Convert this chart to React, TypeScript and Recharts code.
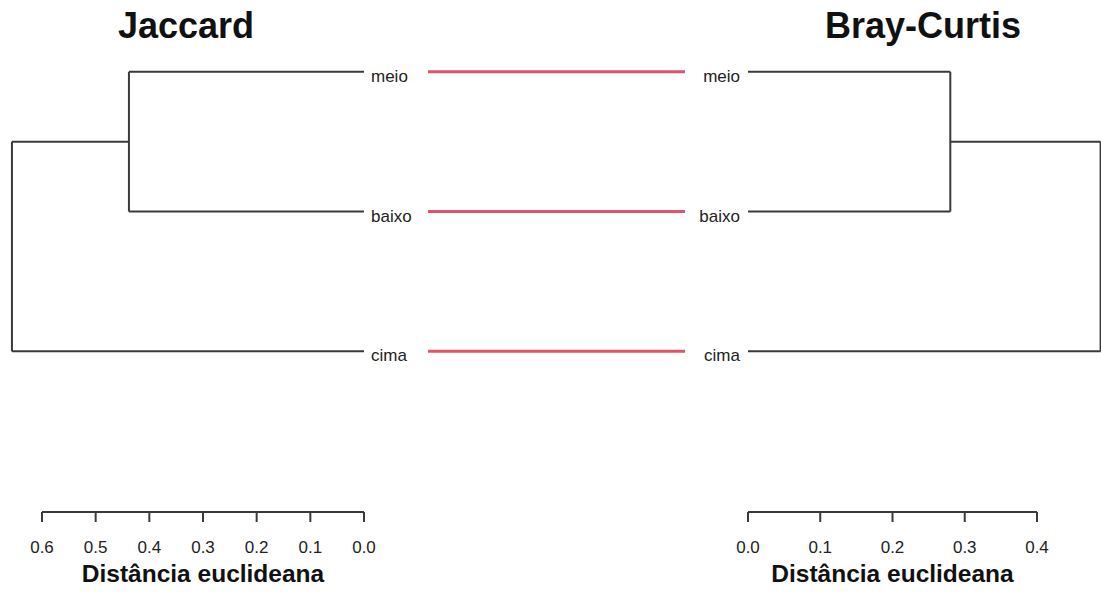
import React from 'react'
import { ComposedChart, Line, Scatter, XAxis, YAxis, ReferenceLine } from 'recharts'

// leaves, top to bottom (same order in both trees)
const leaves = ['meio', 'baixo', 'cima']
const leafPos = [1, 2, 3]

// merge heights: [meio+baixo, root with cima]
const jaccardHeights = [0.438, 0.656]
const brayHeights = [0.28, 0.488]

const jaccardTicks = [0, 0.1, 0.2, 0.3, 0.4, 0.5, 0.6]
const brayTicks = [0, 0.1, 0.2, 0.3, 0.4]

const FONT = '"Liberation Sans", Arial, sans-serif'
const LINE = '#3a3a3a'
const RED = '#DF536B'
const Y_DOMAIN: [number, number] = [0.5, 4.15]
const CHART_H = 598

// leaf tips (height 0)
const tips = leafPos.map((y) => ({ x: 0, y }))

// dendrogram segments from merge heights
function treeSegments(h: number[]) {
  const mid = (leafPos[0] + leafPos[1]) / 2
  return [
    [{ x: 0, y: leafPos[0] }, { x: h[0], y: leafPos[0] }],
    [{ x: 0, y: leafPos[1] }, { x: h[0], y: leafPos[1] }],
    [{ x: h[0], y: leafPos[0] }, { x: h[0], y: leafPos[1] }],
    [{ x: h[0], y: mid }, { x: h[1], y: mid }],
    [{ x: h[1], y: mid }, { x: h[1], y: leafPos[2] }],
    [{ x: 0, y: leafPos[2] }, { x: h[1], y: leafPos[2] }],
  ]
}

const leafName = (v: number) => leaves[leafPos.indexOf(v)] ?? ''

const axisLabel = {
  value: 'Distância euclideana',
  position: 'insideBottom' as const,
  offset: 16,
  fontFamily: FONT,
  fontSize: 24.5,
  fontWeight: 700,
  fill: '#111',
}

function Tree({ heights, ticks, reversed }: { heights: number[]; ticks: number[]; reversed: boolean }) {
  const segs = treeSegments(heights)
  const max = ticks[ticks.length - 1]
  return (
    <>
      <XAxis
        type="number"
        dataKey="x"
        domain={[0, max]}
        ticks={ticks}
        reversed={reversed}
        tickFormatter={(v: number) => v.toFixed(1)}
        height={86}
        tickSize={10}
        tickMargin={19}
        stroke={LINE}
        strokeWidth={2}
        tick={{ fontFamily: FONT, fontSize: 17, fill: '#222' }}
        label={axisLabel}
      />
      <YAxis
        type="number"
        dataKey="y"
        domain={Y_DOMAIN}
        reversed
        ticks={leafPos}
        tickFormatter={leafName}
        orientation={reversed ? 'right' : 'left'}
        width={reversed ? 56 : 58}
        axisLine={false}
        tickLine={false}
        tickMargin={reversed ? 1 : 2}
        tick={{ fontFamily: FONT, fontSize: 17, fill: '#222', dy: 4 }}
      />
      <Scatter data={tips} dataKey="y" fill="none" isAnimationActive={false} />
      {segs.map((s, i) => (
        <ReferenceLine key={i} segment={s} ifOverflow="visible" stroke={LINE} strokeWidth={2} />
      ))}
    </>
  )
}

const links = leaves.map((name, i) => ({
  name,
  data: [
    { x: 0, y: leafPos[i] },
    { x: 1, y: leafPos[i] },
  ],
}))

export default function App() {
  return (
    <div style={{ position: 'absolute', left: 0, top: 0, width: 1101, height: CHART_H, background: '#fff' }}>
      <div style={{ position: 'absolute', left: 0, top: 0 }}>
        <ComposedChart width={420} height={CHART_H} margin={{ top: 2, right: 0, bottom: 0, left: 42 }}>
          {Tree({ heights: jaccardHeights, ticks: jaccardTicks, reversed: true })}
          <text x={186} y={38} textAnchor="middle" fontFamily={FONT} fontSize={36} fontWeight={700} fill="#111">
            Jaccard
          </text>
        </ComposedChart>
      </div>
      <div style={{ position: 'absolute', left: 428, top: 0 }}>
        <ComposedChart width={257} height={CHART_H} margin={{ top: 2, right: 0, bottom: 86, left: 0 }}>
          <XAxis type="number" dataKey="x" domain={[0, 1]} hide />
          <YAxis type="number" dataKey="y" domain={Y_DOMAIN} reversed hide />
          {links.map((l) => (
            <Line
              key={l.name}
              data={l.data}
              dataKey="y"
              stroke={RED}
              strokeWidth={3}
              dot={false}
              isAnimationActive={false}
            />
          ))}
        </ComposedChart>
      </div>
      <div style={{ position: 'absolute', left: 690, top: 0 }}>
        <ComposedChart width={411} height={CHART_H} margin={{ top: 2, right: 64, bottom: 0, left: 0 }}>
          {Tree({ heights: brayHeights, ticks: brayTicks, reversed: false })}
          <text x={233} y={38} textAnchor="middle" fontFamily={FONT} fontSize={36} fontWeight={700} fill="#111">
            Bray-Curtis
          </text>
        </ComposedChart>
      </div>
    </div>
  )
}
